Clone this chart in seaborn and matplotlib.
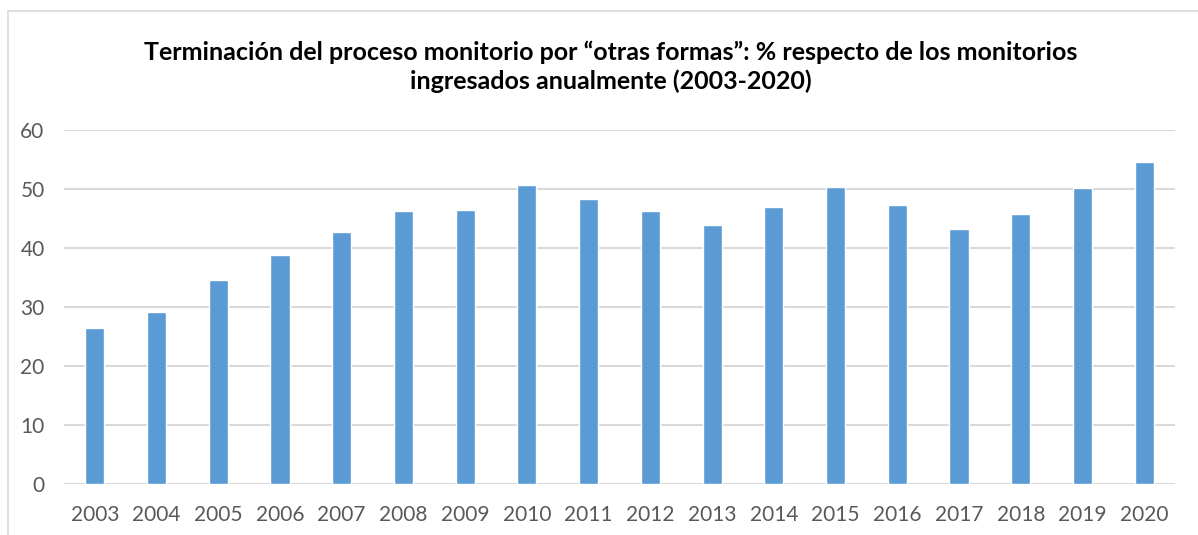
import matplotlib
matplotlib.use('Agg')
import matplotlib.pyplot as plt
import seaborn as sns
import pandas as pd
from matplotlib.patches import Rectangle

years = [str(y) for y in range(2003, 2021)]
pct = [26.4, 29.1, 34.6, 38.8, 42.7, 46.3, 46.4, 50.7, 48.3,
       46.2, 43.9, 46.9, 50.4, 47.3, 43.2, 45.7, 50.2, 54.5]
yticks = [0, 10, 20, 30, 40, 50, 60]

title = ('Terminación del proceso monitorio por \u201cotras formas\u201d: % respecto de los monitorios\n'
         'ingresados anualmente (2003-2020)')

sns.set_style('white')
plt.rcParams['font.family'] = ['Lato', 'DejaVu Sans']

df = pd.DataFrame({'year': years, 'pct': pct})

fig = plt.figure(figsize=(11.98, 5.35), dpi=100)
ax = fig.add_axes([64 / 1198, 1 - 484 / 535, (1175 - 64) / 1198, (484 - 130) / 535])

sns.barplot(data=df, x='year', y='pct', color='#5B9BD5', width=0.31,
            saturation=1, ax=ax, zorder=3)

ax.set_ylim(0, 60)
ax.set_yticks(yticks)
ax.set_xlim(-0.5, len(years) - 0.5)
ax.yaxis.grid(True, color='#D9D9D9', linewidth=1.5, zorder=0)
ax.set_axisbelow(True)
for s in ax.spines.values():
    s.set_visible(False)
ax.tick_params(axis='both', length=0, labelsize=15, colors='#595959')
ax.tick_params(axis='x', pad=15)
ax.tick_params(axis='y', pad=14)
ax.set_xlabel('')
ax.set_ylabel('')

fig.text(611 / 1198, 1 - 67 / 535, title, ha='center', va='center',
         fontsize=18, fontweight='bold', color='black', linespacing=1.3)

# chart frame (cropped)
fig.patches.append(Rectangle((8 / 1198, -0.1), 1.2, 1 - 11 / 535 + 0.1,
                             transform=fig.transFigure, fill=False,
                             edgecolor='#D9D9D9', linewidth=1.2))

fig.savefig('out.png', dpi=100)
